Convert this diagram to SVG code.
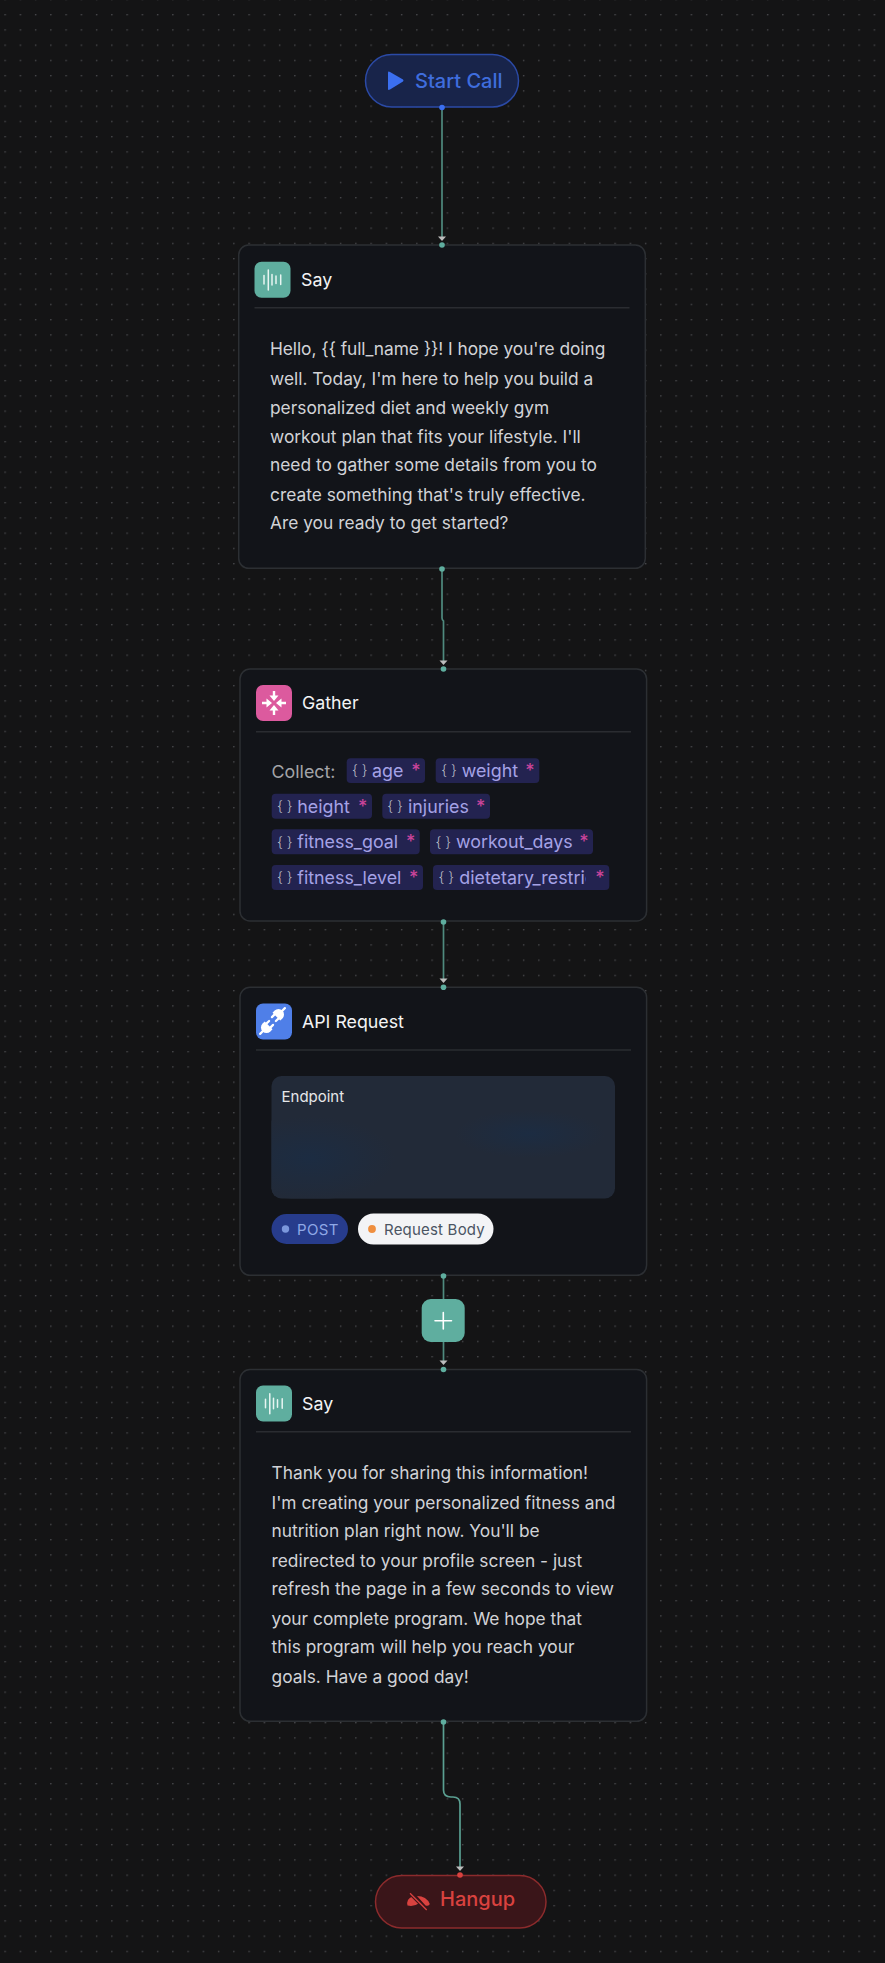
<svg xmlns="http://www.w3.org/2000/svg" width="885" height="1963" viewBox="0 0 885 1963">
<style>
text{font-family:Inter,"Liberation Sans",sans-serif}
.card{fill:#121419;stroke:#2c2f33;stroke-width:1.5}
.div{stroke:#2a2c31;stroke-width:1.5}
.title{font-size:17.8px;fill:#f4f4f5}
.body{font-size:17.35px;fill:#d1d2d6}
.wire{fill:none;stroke:#4f8a7e;stroke-width:1.7}
.h{fill:#5fae9f}
.tag{fill:#232350}
.tt{font-size:17.85px;fill:#a5a2e6}
.br{font-size:14px;fill:#b9bcc6;font-weight:300}
.st{font-size:18px;fill:#c9449a;text-anchor:middle;font-weight:500}
.tip{fill:#bdbdbd}
.wave{stroke:#e8f5f2;stroke-width:1.5;stroke-linecap:round;fill:none}
</style>
<defs>
<pattern id="dots" x="4.4" y="14" width="15.25" height="15.25" patternUnits="userSpaceOnUse"><circle cx="0.75" cy="0.75" r="0.75" fill="#55565a"/></pattern>
<radialGradient id="shadeA"><stop offset="0" stop-color="#1c2c42"/><stop offset="1" stop-color="#222a38"/></radialGradient>
<clipPath id="ep"><rect x="271.500" y="1076" width="343.500" height="122.500" rx="10"/></clipPath>
<clipPath id="cut"><rect x="455" y="860" width="130.700" height="34"/></clipPath>
<g id="plug" fill="#fff"><path d="M-3 -5.500h3a5.500 5.500 0 0 1 0 11h-3z"/><path d="M4 0H9M-3 -2.800H-6.500M-3 2.800H-6.500" stroke="#fff" stroke-width="2.200" stroke-linecap="round"/></g>
</defs>
<rect width="885" height="1963" fill="#141415"/>
<rect width="885" height="1963" fill="url(#dots)"/>
<g id="connectors">
<path class="wire" d="M442 108V237"/>
<path class="wire" d="M442 569V618Q442 620 443.500 621V661"/>
<path class="wire" d="M443.500 922V980"/>
<path class="wire" d="M443.500 1276V1362"/>
<path class="wire" style="stroke:#5a9f91" d="M443.500 1722V1790Q443.500 1797 451 1797H453Q460 1797 460 1804V1868"/>
<path class="tip" d="M438 236.500H446L442 241Z"/>
<path class="tip" d="M439.500 660.500H447.500L443.500 665Z"/>
<path class="tip" d="M439.500 978.500H447.500L443.500 983Z"/>
<path class="tip" d="M439.500 1360.500H447.500L443.500 1365Z"/>
<path class="tip" d="M456 1866.500H464L460 1871Z"/>
</g>
<g id="start">
<rect x="365.500" y="54.500" width="153" height="52.500" rx="26.200" fill="#18244a" stroke="#2b4aa6" stroke-width="1.500"/>
<path d="M388 72.500Q388 71 390 72L403 79.500Q404 80.500 403 81.500L390 89.500Q388 90.500 388 89Z" fill="#3b6ff0"/>
<text x="415" y="87.500" font-size="20" fill="#3f6ddd" font-weight="500">Start Call</text>
<circle cx="442" cy="107.500" r="2.800" fill="#3b6ff0"/>
</g>
<g id="say1">
<rect class="card" x="238.700" y="245" width="406.600" height="323.300" rx="10"/>
<rect x="254.500" y="261.700" width="36" height="36" rx="7" fill="#5fae9f"/>
<path class="wave" d="M264 275.500v8.500M268.300 270v20M272 274.500v10.500M276 276v7.500M280.700 275v9.500"/>
<text class="title" x="301" y="286">Say</text>
<line class="div" x1="254.500" y1="307.700" x2="629.500" y2="307.700"/>
<text class="body" x="270" y="355.300" textLength="335.300">Hello, {{ full_name }}! I hope you're doing</text>
<text class="body" x="270" y="385">well. Today, I'm here to help you build a</text>
<text class="body" x="270" y="413.700">personalized diet and weekly gym</text>
<text class="body" x="270" y="443.300">workout plan that fits your lifestyle. I'll</text>
<text class="body" x="270" y="471.300">need to gather some details from you to</text>
<text class="body" x="270" y="501">create something that's truly effective.</text>
<text class="body" x="270" y="529.300">Are you ready to get started?</text>
<circle class="h" cx="442" cy="245" r="2.800"/>
<circle class="h" cx="442" cy="569" r="2.800"/>
</g>
<g id="gather">
<rect class="card" x="240" y="669" width="406.600" height="252" rx="10"/>
<rect x="256" y="685" width="36" height="36" rx="7" fill="#dc5a9e"/>
<g fill="#fff"><path d="M272.800 691h2.400v4.500h3.300l-4.500 5.500-4.500-5.500h3.300zM272.800 715h2.400v-4.500h3.300l-4.500-5.500-4.500 5.500h3.300zM262 701.800v2.400h4.500v3.300l5.500-4.500-5.500-4.500v3.300zM286 701.800v2.400h-4.500v3.300l-5.500-4.500 5.500-4.500v3.300z"/></g>
<text class="title" x="302" y="709.300">Gather</text>
<line class="div" x1="256" y1="731.700" x2="631" y2="731.700"/>
<text x="271.500" y="778" font-size="17.850" fill="#a3a4a8">Collect:</text>
<rect class="tag" x="346.700" y="758.300" width="78.300" height="24.700" rx="4"/><text class="br" x="352" y="775">{ }</text><text class="tt" x="372" y="777.300">age</text><text class="st" x="416" y="777.300">*</text>
<rect class="tag" x="435.700" y="758.300" width="103.600" height="24.700" rx="4"/><text class="br" x="441.300" y="775">{ }</text><text class="tt" x="461.700" y="777.300">weight</text><text class="st" x="530" y="777.300">*</text>
<rect class="tag" x="271.700" y="793.700" width="100.300" height="25" rx="4"/><text class="br" x="277" y="811">{ }</text><text class="tt" x="297.300" y="813.300">height</text><text class="st" x="362.700" y="813.300">*</text>
<rect class="tag" x="382.300" y="793.700" width="107.700" height="25" rx="4"/><text class="br" x="387.300" y="811">{ }</text><text class="tt" x="408" y="813.300">injuries</text><text class="st" x="480.700" y="813.300">*</text>
<rect class="tag" x="271.700" y="829.300" width="148" height="25" rx="4"/><text class="br" x="277" y="846.500">{ }</text><text class="tt" x="297.300" y="848.300">fitness_goal</text><text class="st" x="410.700" y="848.300">*</text>
<rect class="tag" x="430" y="829.300" width="163" height="25" rx="4"/><text class="br" x="435.500" y="846.500">{ }</text><text class="tt" x="456" y="848.300">workout_days</text><text class="st" x="584" y="848.300">*</text>
<rect class="tag" x="271.700" y="865" width="151.300" height="25" rx="4"/><text class="br" x="277" y="882">{ }</text><text class="tt" x="297.300" y="884.300">fitness_level</text><text class="st" x="413.700" y="884.300">*</text>
<rect class="tag" x="433" y="865" width="176.300" height="25" rx="4"/><text class="br" x="438.500" y="882">{ }</text><g clip-path="url(#cut)"><text class="tt" x="459.300" y="884.300">dietetary_restric</text></g><text class="st" x="600" y="884.300">*</text>
<circle class="h" cx="443.500" cy="669" r="2.800"/>
<circle class="h" cx="443.500" cy="922" r="2.800"/>
</g>
<g id="api">
<rect class="card" x="240" y="987.300" width="406.600" height="288" rx="10"/>
<rect x="256" y="1003.500" width="36" height="36" rx="7" fill="#4f7fe8"/>
<use href="#plug" transform="translate(278.500 1014.500) rotate(-45)"/>
<use href="#plug" transform="translate(266.500 1027.500) rotate(135)"/>
<text class="title" x="302" y="1028.300">API Request</text>
<line class="div" x1="256" y1="1050" x2="631" y2="1050"/>
<rect x="271.500" y="1076" width="343.500" height="122.500" rx="10" fill="#222a38"/>
<g clip-path="url(#ep)"><ellipse cx="310" cy="1158" rx="85" ry="42" fill="url(#shadeA)"/><ellipse cx="530" cy="1134" rx="75" ry="24" fill="url(#shadeA)"/></g>
<text x="281.500" y="1102" font-size="15" fill="#e6e7e9">Endpoint</text>
<rect x="271.500" y="1214" width="76.500" height="30" rx="15" fill="#273c8c"/>
<circle cx="285.500" cy="1229" r="3.700" fill="#7b97dc"/>
<text x="297" y="1234.500" font-size="15" fill="#8fa8e6" letter-spacing=".4">POST</text>
<rect x="358" y="1213.500" width="135.500" height="31" rx="15.500" fill="#f3f4f6"/>
<circle cx="372" cy="1229" r="3.900" fill="#ef8f3f"/>
<text x="384" y="1234.500" font-size="15" fill="#4b5563" letter-spacing=".2">Request Body</text>
<circle class="h" cx="443.500" cy="987.300" r="2.800"/>
<circle class="h" cx="443.500" cy="1276" r="2.800"/>
</g>
<g id="add">
<rect x="421.700" y="1299" width="43" height="43" rx="9" fill="#5fae9f"/>
<path d="M443.300 1312.500v16.500M435 1320.700h16.500" stroke="#fff" stroke-width="1.600" stroke-linecap="round"/>
</g>
<g id="say2">
<rect class="card" x="240" y="1369.500" width="406.600" height="351.800" rx="10"/>
<rect x="256" y="1385.500" width="36" height="36" rx="7" fill="#5fae9f"/>
<path class="wave" d="M265.500 1399.300v8.500M269.800 1393.800v20M273.500 1398.300v10.500M277.500 1399.800v7.500M282.200 1398.800v9.500"/>
<text class="title" x="302" y="1410">Say</text>
<line class="div" x1="256" y1="1431.700" x2="631" y2="1431.700"/>
<text class="body" x="271.500" y="1479.300">Thank you for sharing this information!</text>
<text class="body" x="271.500" y="1509">I'm creating your personalized fitness and</text>
<text class="body" x="271.500" y="1537.300">nutrition plan right now. You'll be</text>
<text class="body" x="271.500" y="1567">redirected to your profile screen - just</text>
<text class="body" x="271.500" y="1595.300">refresh the page in a few seconds to view</text>
<text class="body" x="271.500" y="1625">your complete program. We hope that</text>
<text class="body" x="271.500" y="1653.300">this program will help you reach your</text>
<text class="body" x="271.500" y="1683">goals. Have a good day!</text>
<circle class="h" cx="443.500" cy="1369.500" r="2.800"/>
<circle class="h" cx="443.500" cy="1722" r="2.800"/>
</g>
<g id="hangup">
<rect x="375.500" y="1875.500" width="170.500" height="52.500" rx="26.200" fill="#3a1519" stroke="#8c2b2c" stroke-width="1.500"/>
<path d="M407.500 1905.500Q406 1899 412.500 1896.500L419.500 1903Q414 1907 407.500 1905.500ZM417 1896Q426.500 1896 429.800 1904Q429 1906.500 425.500 1905.500Z" fill="#d9423f"/>
<path d="M410 1893.300L426.700 1910" stroke="#3a1519" stroke-width="3.500" fill="none"/>
<path d="M410 1893.300L426.700 1910" stroke="#d9423f" stroke-width="1.300" fill="none"/>
<text x="440" y="1906" font-size="20" fill="#d9423f" font-weight="500">Hangup</text>
<circle cx="460" cy="1875" r="2.800" fill="#d9423f"/>
</g>
</svg>
